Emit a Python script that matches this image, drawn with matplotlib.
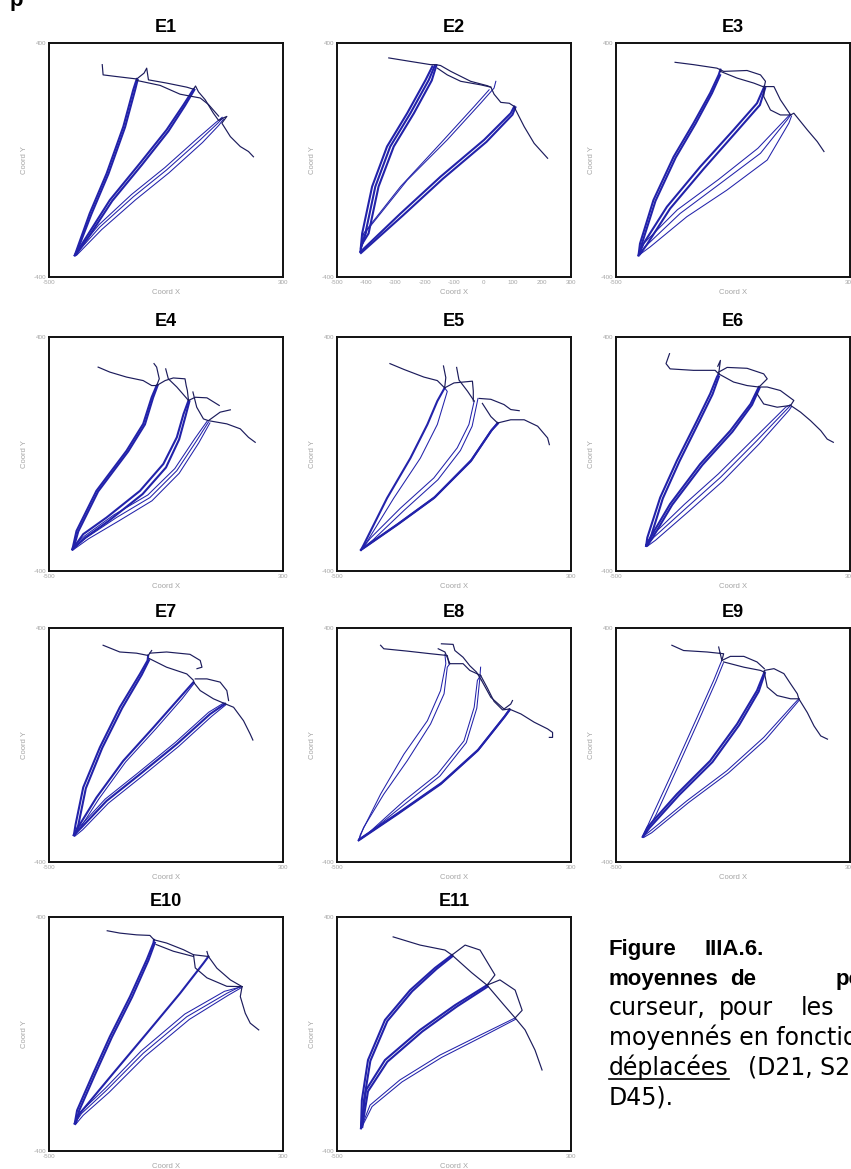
import matplotlib.pyplot as plt
from matplotlib.lines import Line2D

plt.rcParams['font.family'] = ['Liberation Sans', 'DejaVu Sans']
plt.rcParams['axes.unicode_minus'] = False

# cursor trajectories per condition, in screen coordinates (Coord X, Coord Y)
# *_BLUE: dense averaged strands, *_THIN: single strands, *_NAVY: moves between targets
E1_BLUE = [
    [(-412, -326), (-361, -183), (-303, -46), (-246, 114), (-212, 240), (-200, 277)],
    [(-408, -322), (-355, -185), (-297, -48), (-240, 112), (-206, 238), (-197, 274)],
    [(-412, -326), (-372, -263), (-292, -137), (-189, -11), (-98, 103), (-40, 189), (-6, 242)],
    [(-405, -320), (-364, -262), (-284, -140), (-182, -16), (-92, 98), (-35, 186), (-3, 240)],
]
E1_THIN = [
    [(-412, -326), (-326, -229), (-212, -126), (-98, -34), (17, 69), (74, 123), (94, 143)],
    [(-406, -326), (-320, -238), (-204, -136), (-90, -44), (25, 60), (80, 118), (97, 140)],
    [(-410, -320), (-330, -222), (-218, -118), (-104, -26), (10, 76), (70, 128), (92, 146)],
]
E1_NAVY = [
    [(-318, 326), (-315, 291), (-275, 286), (-200, 277), (-175, 297), (-166, 314), (-160, 274),
     (-98, 263), (-29, 249), (-6, 242), (1, 253), (11, 233), (34, 206), (62, 160), (80, 135),
     (94, 143), (108, 149), (91, 126), (120, 80), (154, 46), (182, 29), (199, 11)],
    [(-200, 272), (-120, 255), (-52, 225), (17, 212), (45, 190), (80, 150)],
]

E2_BLUE = [
    [(-420, -314), (-283, -183), (-146, -57), (3, 69), (94, 160), (106, 183)],
    [(-418, -318), (-275, -190), (-138, -64), (11, 62), (100, 155), (110, 180)],
    [(-420, -314), (-414, -251), (-380, -91), (-329, 46), (-260, 160), (-197, 274), (-174, 320)],
    [(-418, -300), (-403, -251), (-369, -91), (-318, 46), (-249, 160), (-186, 274), (-166, 322)],
    [(-416, -290), (-392, -251), (-358, -91), (-306, 46), (-237, 160), (-176, 272), (-160, 324)],
]
E2_THIN = [
    [(-420, -314), (-409, -251), (-283, -91), (-146, 57), (-31, 183), (20, 240)],
    [(-418, -305), (-397, -240), (-260, -69), (-123, 69), (-9, 194), (37, 246), (43, 269)],
]
E2_NAVY = [
    [(-323, 349), (-249, 337), (-180, 326), (-163, 326), (-146, 323), (-111, 303), (-43, 269),
     (14, 254), (26, 249), (37, 225), (60, 197), (89, 194), (106, 183), (111, 171), (140, 114),
     (174, 57), (220, 6)],
    [(-157, 314), (-123, 291), (-77, 269), (-9, 257), (26, 249)],
]

E3_BLUE = [
    [(-423, -326), (-418, -286), (-372, -137), (-303, 11), (-235, 126), (-178, 229), (-149, 291), (-143, 309)],
    [(-420, -320), (-412, -288), (-365, -140), (-296, 8), (-228, 124), (-172, 228), (-144, 290)],
    [(-423, -326), (-406, -286), (-326, -160), (-212, -23), (-98, 103), (-18, 194), (7, 251)],
    [(-418, -322), (-395, -290), (-315, -166), (-200, -30), (-88, 97), (-8, 188), (10, 246)],
]
E3_THIN = [
    [(-423, -326), (-401, -297), (-281, -183), (-143, -80), (-6, 23), (85, 137), (97, 154)],
    [(-420, -324), (-383, -297), (-258, -194), (-121, -103), (17, 0), (91, 126), (100, 150)],
    [(-423, -320), (-405, -285), (-290, -170), (-150, -67), (-15, 40), (80, 140), (95, 156)],
]
E3_NAVY = [
    [(-298, 334), (-235, 326), (-155, 314), (-132, 303), (-52, 306), (-6, 291), (11, 269), (7, 251)],
    [(7, 251), (40, 251), (62, 206), (97, 154), (108, 160), (154, 103), (188, 63), (211, 29)],
    [(-143, 303), (-86, 280), (-29, 263), (7, 249), (5, 217), (28, 171), (62, 154), (97, 154)],
]

E4_BLUE = [
    [(-420, -326), (-406, -263), (-338, -126), (-235, 11), (-178, 103), (-149, 194), (-132, 234)],
    [(-416, -322), (-400, -265), (-332, -128), (-229, 9), (-172, 101), (-144, 193), (-128, 236)],
    [(-420, -326), (-383, -274), (-303, -217), (-189, -126), (-109, -34), (-63, 57), (-40, 137), (-23, 183)],
    [(-420, -326), (-375, -285), (-295, -228), (-180, -137), (-100, -46), (-55, 50), (-32, 134), (-20, 180)],
]
E4_THIN = [
    [(-420, -326), (-372, -286), (-269, -217), (-155, -149), (-63, -57), (5, 46), (45, 109)],
    [(-418, -328), (-365, -290), (-260, -228), (-148, -160), (-55, -66), (12, 38), (50, 106)],
    [(-420, -320), (-378, -280), (-278, -208), (-162, -140), (-70, -50), (-2, 52), (42, 114)],
]
E4_NAVY = [
    [(-332, 297), (-292, 280), (-235, 263), (-178, 251), (-149, 234), (-132, 234), (-123, 257),
     (-132, 297), (-141, 309)],
    [(-132, 234), (-103, 251), (-75, 260), (-35, 257), (-31, 234), (-27, 217), (-23, 183)],
    [(-101, 291), (-92, 257), (-63, 229), (-43, 206), (-23, 183)],
    [(-23, 183), (0, 194), (40, 192), (82, 166)],
    [(-8, 212), (5, 160), (28, 120), (45, 114), (85, 143), (120, 151)],
    [(45, 114), (108, 103), (154, 86), (182, 57), (205, 40)],
]

E5_BLUE = [
    [(-418, -328), (-409, -311), (-329, -151), (-249, -14), (-191, 101), (-157, 181), (-132, 226)],
    [(-418, -328), (-294, -242), (-169, -151), (-43, -25), (26, 78), (49, 106)],
    [(-414, -324), (-290, -238), (-165, -147), (-40, -20), (29, 82), (50, 104)],
]
E5_THIN = [
    [(-418, -328), (-397, -299), (-306, -151), (-215, -14), (-157, 101), (-123, 214), (-132, 226)],
    [(-418, -328), (-386, -288), (-283, -185), (-169, -82), (-89, 21), (-49, 101), (-31, 181)],
    [(-416, -326), (-375, -292), (-270, -192), (-155, -88), (-78, 12), (-38, 95), (-18, 190)],
]
E5_NAVY = [
    [(-319, 309), (-271, 289), (-203, 263), (-157, 251), (-132, 226), (-128, 261), (-136, 301)],
    [(-132, 226), (-100, 243), (-37, 249), (-34, 215), (-34, 181)],
    [(-91, 296), (-83, 253), (-54, 215), (-31, 181)],
    [(-14, 190), (26, 187), (71, 169), (94, 152), (123, 148)],
    [(-3, 173), (26, 128), (49, 106)],
    [(49, 106), (94, 117), (140, 117), (186, 95), (220, 55), (226, 32)],
]

E6_BLUE = [
    [(-397, -314), (-393, -286), (-349, -149), (-292, -23), (-223, 114), (-178, 206), (-155, 263), (-149, 274)],
    [(-395, -310), (-383, -290), (-340, -152), (-283, -25), (-215, 112), (-170, 204), (-148, 265)],
    [(-397, -314), (-383, -286), (-315, -171), (-212, -34), (-109, 80), (-40, 171), (-12, 229)],
    [(-392, -312), (-376, -288), (-308, -174), (-205, -38), (-102, 76), (-35, 168), (-9, 226)],
]
E6_THIN = [
    [(-397, -314), (-372, -286), (-258, -183), (-143, -80), (-18, 46), (85, 154), (97, 166)],
    [(-394, -316), (-365, -295), (-250, -195), (-135, -93), (-10, 35), (92, 150), (100, 162)],
    [(-398, -310), (-378, -280), (-266, -172), (-150, -68), (-25, 56), (80, 160), (95, 168)],
]
E6_NAVY = [
    [(-317, 343), (-329, 309), (-315, 291), (-235, 286), (-161, 286), (-149, 274), (-143, 320), (-152, 300)],
    [(-149, 280), (-120, 296), (-52, 293), (5, 274), (17, 257), (-6, 234), (-12, 229)],
    [(-149, 274), (-98, 246), (-52, 234), (-12, 229), (17, 229), (62, 217), (108, 183), (97, 166)],
    [(-18, 206), (5, 171), (51, 160), (97, 166)],
    [(97, 166), (131, 143), (165, 114), (200, 80), (222, 51), (243, 40)],
]

E7_BLUE = [
    [(-415, -308), (-409, -271), (-383, -145), (-326, -8), (-258, 129), (-189, 243), (-163, 289), (-161, 306)],
    [(-412, -306), (-400, -275), (-374, -148), (-318, -10), (-250, 126), (-183, 240), (-158, 290)],
    [(-415, -308), (-401, -282), (-338, -180), (-246, -54), (-143, 60), (-52, 163), (-6, 215)],
    [(-415, -308), (-389, -282), (-303, -191), (-189, -100), (-63, 3), (51, 106), (102, 141)],
]
E7_THIN = [
    [(-413, -310), (-395, -286), (-330, -185), (-238, -58), (-135, 55), (-45, 158), (-3, 212)],
    [(-412, -312), (-385, -290), (-297, -199), (-183, -108), (-57, -5), (56, 98), (104, 137)],
    [(-414, -305), (-392, -276), (-308, -185), (-194, -94), (-68, 9), (46, 112), (98, 144)],
]
E7_NAVY = [
    [(-315, 341), (-258, 318), (-201, 314), (-161, 306), (-149, 323)],
    [(-155, 314), (-98, 318), (-18, 310), (17, 289), (23, 266), (6, 261)],
    [(-158, 296), (-98, 266), (-29, 243), (-6, 221)],
    [(0, 226), (40, 226), (85, 215), (108, 186), (114, 152)],
    [(-6, 215), (17, 186), (62, 158), (102, 141)],
    [(102, 141), (131, 129), (165, 83), (188, 37), (197, 17)],
]

E8_BLUE = [
    [(-426, -326), (-420, -322), (-294, -237), (-146, -134), (-20, -20), (71, 95), (89, 118)],
    [(-423, -322), (-290, -232), (-142, -129), (-16, -15), (74, 98), (90, 122)],
]
E8_THIN = [
    [(-426, -326), (-409, -282), (-340, -168), (-260, -54), (-180, 72), (-134, 175), (-123, 266), (-114, 278)],
    [(-426, -326), (-420, -306), (-351, -168), (-271, -31), (-191, 83), (-146, 186), (-128, 278), (-131, 310)],
    [(-426, -326), (-397, -305), (-271, -191), (-157, -100), (-66, 14), (-31, 129), (-20, 221), (-9, 238)],
    [(-424, -322), (-390, -300), (-262, -197), (-148, -106), (-58, 8), (-22, 126), (-12, 225), (-9, 266)],
]
E8_NAVY = [
    [(-351, 341), (-340, 329), (-260, 321), (-180, 312), (-123, 306), (-117, 278)],
    [(-143, 346), (-103, 344), (-97, 323), (-69, 300), (-46, 271), (-23, 249), (-6, 221)],
    [(-154, 329), (-131, 318), (-114, 278), (-69, 278), (-46, 255), (-9, 238)],
    [(-9, 238), (14, 195), (37, 149), (66, 120), (89, 123)],
    [(-6, 221), (26, 163), (71, 123), (94, 140), (100, 152)],
    [(89, 123), (129, 106), (174, 78), (220, 55), (237, 43), (237, 26), (226, 26)],
]

E9_BLUE = [
    [(-409, -314), (-393, -282), (-292, -168), (-178, -54), (-86, 72), (-18, 186), (5, 243), (7, 249)],
    [(-406, -312), (-386, -284), (-284, -171), (-170, -58), (-79, 68), (-12, 183), (9, 246)],
]
E9_THIN = [
    [(-409, -314), (-374, -237), (-300, -77), (-228, 83), (-166, 221), (-143, 278), (-138, 289)],
    [(-406, -314), (-364, -240), (-291, -80), (-219, 80), (-158, 218), (-133, 280)],
    [(-409, -314), (-383, -294), (-258, -191), (-121, -88), (5, 26), (108, 140), (125, 158)],
    [(-405, -316), (-378, -300), (-252, -197), (-115, -95), (12, 19), (112, 136), (127, 154)],
]
E9_NAVY = [
    [(-309, 341), (-269, 323), (-189, 318), (-132, 312), (-138, 289), (-149, 335)],
    [(-138, 289), (-109, 303), (-63, 303), (-18, 284), (7, 261)],
    [(-132, 284), (-63, 266), (-6, 255), (7, 249)],
    [(7, 255), (40, 261), (74, 244), (97, 209), (120, 175), (125, 158)],
    [(7, 249), (17, 198), (51, 169), (97, 158), (125, 158)],
    [(125, 158), (154, 111), (177, 65), (200, 31), (223, 20)],
]

E10_BLUE = [
    [(-412, -306), (-404, -261), (-349, -135), (-292, -9), (-223, 128), (-166, 254), (-143, 311), (-141, 322)],
    [(-408, -304), (-397, -262), (-342, -137), (-285, -11), (-216, 126), (-160, 252), (-138, 312)],
    [(-412, -306), (-395, -272), (-281, -135), (-166, 2), (-52, 139), (28, 242), (45, 265)],
]
E10_THIN = [
    [(-412, -306), (-389, -272), (-303, -192), (-178, -66), (-29, 59), (108, 139), (154, 162)],
    [(-410, -310), (-383, -278), (-295, -200), (-170, -75), (-20, 50), (112, 132), (157, 158)],
    [(-412, -302), (-392, -266), (-308, -186), (-185, -58), (-36, 68), (100, 146), (160, 162)],
]
E10_NAVY = [
    [(-301, 353), (-258, 345), (-201, 339), (-155, 337), (-141, 322)],
    [(-141, 322), (-98, 311), (-40, 288), (-6, 271), (45, 265), (40, 282)],
    [(-134, 306), (-75, 283), (-6, 265)],
    [(-6, 271), (0, 226), (40, 192), (108, 163), (160, 162)],
    [(45, 265), (74, 225), (120, 185), (160, 162)],
    [(160, 162), (154, 128), (171, 71), (188, 37), (217, 14)],
]

E11_BLUE = [
    [(-418, -322), (-415, -226), (-394, -89), (-336, 48), (-250, 150), (-165, 226), (-107, 270)],
    [(-414, -318), (-408, -228), (-386, -92), (-328, 44), (-243, 146), (-160, 222), (-105, 266)],
    [(-418, -322), (-401, -192), (-336, -89), (-216, 14), (-96, 99), (13, 167)],
    [(-414, -318), (-394, -196), (-328, -95), (-209, 8), (-90, 94), (15, 162)],
]
E11_THIN = [
    [(-418, -322), (-387, -243), (-285, -157), (-148, -72), (-11, -4), (109, 55)],
    [(-416, -320), (-380, -248), (-278, -164), (-142, -80), (-5, -10), (110, 50)],
]
E11_NAVY = [
    [(-308, 332), (-216, 304), (-131, 287), (-107, 270), (-62, 304), (-11, 287), (40, 202), (13, 167),
     (57, 185), (109, 150), (133, 81), (109, 55), (143, 14), (177, -55), (201, -123)],
    [(-107, 270), (-40, 210), (13, 167)],
    [(13, 167), (70, 100), (109, 55)],
]

PANELS = [
    ("E1", E1_BLUE, E1_THIN, E1_NAVY),
    ("E2", E2_BLUE, E2_THIN, E2_NAVY),
    ("E3", E3_BLUE, E3_THIN, E3_NAVY),
    ("E4", E4_BLUE, E4_THIN, E4_NAVY),
    ("E5", E5_BLUE, E5_THIN, E5_NAVY),
    ("E6", E6_BLUE, E6_THIN, E6_NAVY),
    ("E7", E7_BLUE, E7_THIN, E7_NAVY),
    ("E8", E8_BLUE, E8_THIN, E8_NAVY),
    ("E9", E9_BLUE, E9_THIN, E9_NAVY),
    ("E10", E10_BLUE, E10_THIN, E10_NAVY),
    ("E11", E11_BLUE, E11_THIN, E11_NAVY),
]

W, H = 851, 1169
COL_X = [49, 337, 616]
ROW_Y = [43, 337, 628, 917]
BOX = 234
GREY = '#a5a5a5'
BLUE = '#2222aa'
NAVY = '#1c1c5c'

fig = plt.figure(figsize=(W / 100, H / 100), dpi=100)
fig.patch.set_facecolor('white')


def plot_lines(ax, lines, color, lw):
    for line in lines:
        xs = [p[0] for p in line]
        ys = [p[1] for p in line]
        ax.plot(xs, ys, color=color, lw=lw, solid_joinstyle='round')


for i, (name, blue, thin, navy) in enumerate(PANELS):
    r, c = divmod(i, 3)
    left = COL_X[c] / W
    bottom = 1 - (ROW_Y[r] + BOX) / H
    ax = fig.add_axes([left, bottom, BOX / W, BOX / H])
    plot_lines(ax, thin, BLUE, 0.75)
    plot_lines(ax, blue, BLUE, 1.5)
    plot_lines(ax, navy, NAVY, 0.85)
    ax.set_xlim(-500, 300)
    ax.set_ylim(-400, 400)
    if name == "E2":
        ax.set_xticks(range(-500, 301, 100))
    else:
        ax.set_xticks([-500, 300])
    ax.set_yticks([-400, 400])
    ax.tick_params(length=0, labelsize=4.5, labelcolor=GREY, pad=2)
    ax.set_xlabel("Coord X", fontsize=5.5, color=GREY, labelpad=3)
    ax.set_ylabel("Coord Y", fontsize=5.5, color=GREY, labelpad=4)
    ax.set_title(name, fontsize=13, fontweight='bold', pad=8)
    for s in ax.spines.values():
        s.set_linewidth(1.4)
        s.set_color('#111111')


# figure caption, justified by hand: bold heading, wider body text
def caption(x, y, s, bold=False):
    if bold:
        return fig.text(x / W, 1 - y / H, s, fontsize=16, ha='left', va='baseline',
                        fontweight='bold', family=['Liberation Sans', 'DejaVu Sans'])
    return fig.text(x / W, 1 - y / H, s, fontsize=17, ha='left', va='baseline',
                    family=['DejaVu Sans'])


fig.text(10 / W, 1 - 6 / H, "p", fontsize=16, ha='left', va='baseline', fontweight='bold')
caption(609, 955, "Figure", True)
caption(705, 955, "IIIA.6.", True)
caption(609, 985, "moyennes", True)
caption(730, 985, "de", True)
caption(836, 985, "pointage", True)
caption(609, 1015, "curseur,")
caption(719, 1015, "pour")
caption(801, 1015, "les")
caption(609, 1045, "moyennés en fonction")
under = caption(609, 1075, "déplacées")
caption(748, 1075, "(D21, S25")
caption(609, 1105, "D45).")

fig.canvas.draw()
bb = under.get_window_extent()
uy = bb.y0 + 1
fig.add_artist(Line2D([bb.x0 / W, bb.x1 / W], [uy / H, uy / H], color='black', lw=1.2))

fig.savefig("out.png", dpi=100, facecolor='white')
